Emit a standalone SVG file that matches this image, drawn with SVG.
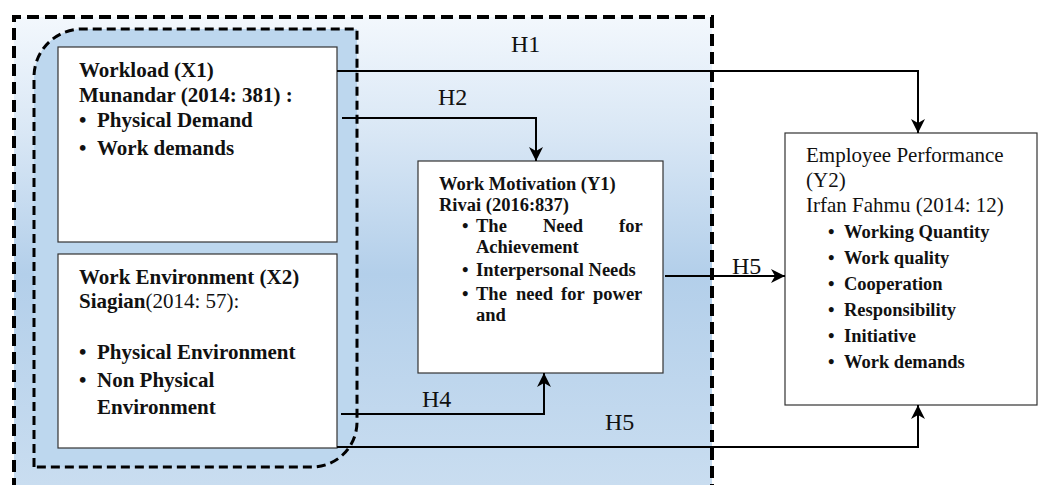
<svg xmlns="http://www.w3.org/2000/svg" width="1040" height="485" viewBox="0 0 1040 485">
  <defs>
    <linearGradient id="outerFill" x1="0" y1="16" x2="0" y2="485" gradientUnits="userSpaceOnUse">
      <stop offset="0" stop-color="#f3f8fd"/>
      <stop offset="0.25" stop-color="#d9e7f5"/>
      <stop offset="0.55" stop-color="#b3cfea"/>
      <stop offset="1" stop-color="#c9ddf0"/>
    </linearGradient>
    <marker id="arrow" markerUnits="userSpaceOnUse" markerWidth="16" markerHeight="14" refX="14" refY="7" orient="auto">
      <path d="M0,0 L14,7 L0,14 L4,7 Z" fill="#000"/>
    </marker>
    <style>
      .box { fill: #fff; stroke: #333; stroke-width: 1.2; }
      .b { font-family: "Liberation Serif", "Times New Roman", serif; font-weight: bold; fill: #111; }
      .r { font-family: "Liberation Serif", "Times New Roman", serif; font-weight: normal; fill: #111; }
      .lg { font-size: 21px; }
      .sm { font-size: 18.5px; }
      .hl { font-family: "Liberation Serif", "Times New Roman", serif; font-size: 24px; fill: #111; }
      .conn { fill: none; stroke: #000; stroke-width: 2; }
      .dashOuter { fill: none; stroke: #000; stroke-width: 4; stroke-dasharray: 12 6; }
      .dashInner { fill: none; stroke: #000; stroke-width: 3; stroke-dasharray: 9 5; }
    </style>
  </defs>

  <!-- background regions -->
  <g id="regions">
    <rect x="14" y="17" width="698" height="480" fill="url(#outerFill)"/>
    <path d="M34,467 L34,77 A48,48 0 0 1 82,29 L357,29 L357,422 A45,45 0 0 1 312,467 Z" fill="#bdd7ee"/>
  </g>

  <!-- Workload (X1) -->
  <g id="workload">
    <rect class="box" x="58" y="47" width="279" height="195"/>
    <text class="b lg" x="79" y="77">Workload (X1)</text>
    <text class="b lg" x="79" y="102">Munandar (2014: 381) :</text>
    <text class="b lg" x="79" y="127">•</text>
    <text class="b lg" x="97" y="127">Physical Demand</text>
    <text class="b lg" x="79" y="155">•</text>
    <text class="b lg" x="97" y="155">Work demands</text>
  </g>

  <!-- Work Environment (X2) -->
  <g id="environment">
    <rect class="box" x="58" y="254" width="279" height="194"/>
    <text class="b lg" x="79" y="284">Work Environment (X2)</text>
    <text class="b lg" x="79" y="308">Siagian<tspan class="r">(2014: 57):</tspan></text>
    <text class="b lg" x="79" y="359">•</text>
    <text class="b lg" x="97" y="359">Physical Environment</text>
    <text class="b lg" x="79" y="387">•</text>
    <text class="b lg" x="97" y="387">Non Physical</text>
    <text class="b lg" x="97" y="414">Environment</text>
  </g>

  <!-- Work Motivation (Y1) -->
  <g id="motivation">
    <rect class="box" x="418" y="161" width="245" height="212"/>
    <text class="b sm" x="439" y="190">Work Motivation (Y1)</text>
    <text class="b sm" x="439" y="211">Rivai (2016:837)</text>
    <text class="b sm" x="462" y="232">•</text>
    <text class="b sm" y="232"><tspan x="476">The</tspan><tspan x="543">Need</tspan><tspan x="619">for</tspan></text>
    <text class="b sm" x="476" y="253">Achievement</text>
    <text class="b sm" x="462" y="276">•</text>
    <text class="b sm" x="476" y="276">Interpersonal Needs</text>
    <text class="b sm" x="462" y="300">•</text>
    <text class="b sm" y="300"><tspan x="476">The</tspan><tspan x="516">need</tspan><tspan x="561">for</tspan><tspan x="593">power</tspan></text>
    <text class="b sm" x="476" y="321">and</text>
  </g>

  <!-- Employee Performance (Y2) -->
  <g id="performance">
    <rect class="box" x="785" y="133" width="252" height="272"/>
    <text class="r lg" x="806" y="162">Employee Performance</text>
    <text class="r lg" x="806" y="187">(Y2)</text>
    <text class="r lg" x="806" y="212">Irfan Fahmu (2014: 12)</text>
    <text class="b sm" x="828" y="238">•</text>
    <text class="b sm" x="844" y="238">Working Quantity</text>
    <text class="b sm" x="828" y="264">•</text>
    <text class="b sm" x="844" y="264">Work quality</text>
    <text class="b sm" x="828" y="290">•</text>
    <text class="b sm" x="844" y="290">Cooperation</text>
    <text class="b sm" x="828" y="316">•</text>
    <text class="b sm" x="844" y="316">Responsibility</text>
    <text class="b sm" x="828" y="342">•</text>
    <text class="b sm" x="844" y="342">Initiative</text>
    <text class="b sm" x="828" y="368">•</text>
    <text class="b sm" x="844" y="368">Work demands</text>
  </g>

  <!-- dashed group outlines -->
  <g id="outlines">
    <path class="dashOuter" d="M14,490 L14,17 L712,17 L712,490"/>
    <path class="dashInner" d="M34,467 L34,77 A48,48 0 0 1 82,29 L357,29 L357,422 A45,45 0 0 1 312,467 Z"/>
  </g>

  <!-- hypothesis connectors -->
  <g id="connectors">
    <path class="conn" d="M337,71 L918,71 L918,133" marker-end="url(#arrow)"/>
    <path class="conn" d="M342,118 L536,118 L536,161" marker-end="url(#arrow)"/>
    <path class="conn" d="M341,414 L544,414 L544,373" marker-end="url(#arrow)"/>
    <path class="conn" d="M337,447 L918,447 L918,405" marker-end="url(#arrow)"/>
    <path class="conn" d="M665,276 L785,276" marker-end="url(#arrow)"/>
    <text class="hl" x="511" y="52">H1</text>
    <text class="hl" x="438" y="105">H2</text>
    <text class="hl" x="422" y="407">H4</text>
    <text class="hl" x="605" y="430">H5</text>
    <text class="hl" x="732" y="274">H5</text>
  </g>
</svg>
